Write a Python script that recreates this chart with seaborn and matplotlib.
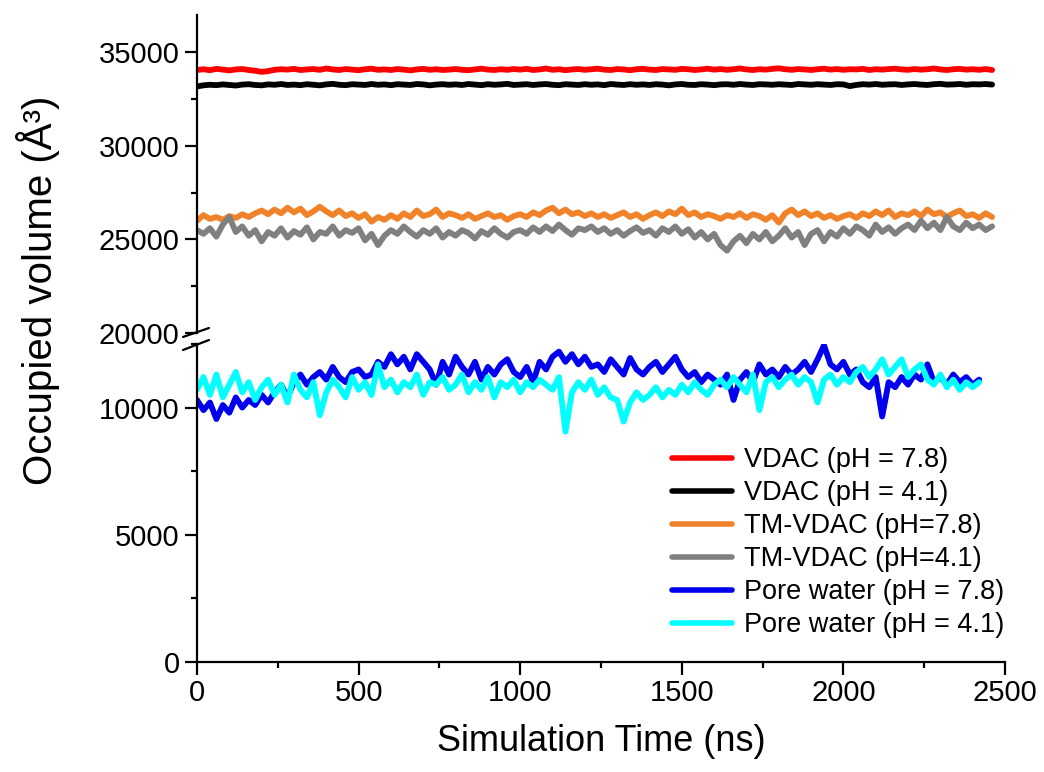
import numpy as np
import pandas as pd
import matplotlib
matplotlib.use("Agg")
import matplotlib.pyplot as plt
from matplotlib.lines import Line2D
from matplotlib.ticker import MultipleLocator
import seaborn as sns

# ---------------- data ----------------
time_prot = np.arange(0, 2461, 20)   # ns
time_pore = np.arange(0, 2421, 20)   # ns

vdac_78 = [34060, 34100, 34050, 34120, 34080, 34040, 34090, 34110, 34060, 34020,
           33960, 34000, 34070, 34100, 34080, 34120, 34060, 34090, 34110, 34070,
           34140, 34090, 34060, 34110, 34080, 34050, 34100, 34130, 34070, 34090,
           34060, 34110, 34080, 34040, 34090, 34120, 34070, 34100, 34060, 34080,
           34110, 34070, 34050, 34090, 34130, 34080, 34060, 34100, 34070, 34110,
           34080, 34120, 34060, 34090, 34140, 34070, 34100, 34050, 34090, 34110,
           34070, 34100, 34130, 34080, 34060, 34110, 34090, 34050, 34100, 34120,
           34080, 34060, 34110, 34090, 34070, 34120, 34100, 34060, 34090, 34130,
           34080, 34110, 34070, 34100, 34140, 34090, 34060, 34100, 34080, 34120,
           34150, 34100, 34070, 34110, 34090, 34060, 34100, 34130, 34080, 34110,
           34070, 34100, 34090, 34120, 34060, 34100, 34080, 34110, 34130, 34090,
           34070, 34110, 34080, 34100, 34140, 34090, 34060, 34100, 34120, 34080,
           34100, 34070, 34110, 34060]

vdac_41 = [33180, 33240, 33270, 33250, 33290, 33260, 33230, 33280, 33300, 33260,
           33240, 33290, 33270, 33310, 33260, 33280, 33250, 33300, 33270, 33240,
           33290, 33320, 33270, 33250, 33300, 33280, 33260, 33310, 33270, 33290,
           33250, 33300, 33280, 33260, 33310, 33290, 33240, 33280, 33300, 33270,
           33290, 33260, 33310, 33280, 33250, 33300, 33270, 33290, 33320, 33260,
           33280, 33300, 33260, 33290, 33310, 33270, 33250, 33300, 33280, 33260,
           33300, 33270, 33290, 33250, 33310, 33280, 33260, 33300, 33270, 33290,
           33260, 33300, 33280, 33240, 33290, 33310, 33270, 33260, 33300, 33280,
           33250, 33290, 33300, 33270, 33310, 33280, 33260, 33300, 33290, 33270,
           33300, 33280, 33260, 33310, 33290, 33270, 33300, 33280, 33260, 33300,
           33290, 33200, 33260, 33300, 33280, 33310, 33270, 33290, 33300, 33260,
           33290, 33310, 33280, 33260, 33300, 33320, 33280, 33290, 33310, 33270,
           33300, 33290, 33310, 33280]

tm_vdac_78 = [26000, 26300, 26100, 26200, 26050, 26250, 26150, 26350, 26200, 26400,
              26550, 26350, 26600, 26400, 26700, 26450, 26650, 26300, 26500, 26750,
              26500, 26300, 26550, 26250, 26400, 26150, 26350, 25950, 26200, 26050,
              26300, 26100, 26400, 26200, 26550, 26250, 26350, 26600, 26200, 26400,
              26300, 26150, 26350, 26100, 26250, 26400, 26200, 26300, 26050, 26250,
              26350, 26200, 26450, 26300, 26550, 26700, 26400, 26600, 26350, 26450,
              26250, 26400, 26200, 26350, 26150, 26300, 26450, 26200, 26350, 26100,
              26300, 26450, 26250, 26500, 26350, 26650, 26300, 26450, 26200, 26350,
              26250, 26100, 26300, 26200, 26400, 26150, 26350, 26250, 26050, 26300,
              25900, 26400, 26600, 26300, 26500, 26250, 26400, 26150, 26300, 26100,
              26250, 26350, 26150, 26400, 26250, 26500, 26300, 26550, 26200, 26400,
              26300, 26500, 26250, 26600, 26350, 26450, 26200, 26400, 26550, 26250,
              26350, 26150, 26400, 26200]

tm_vdac_41 = [25500, 25300, 25600, 25150, 25800, 26200, 25400, 25700, 25200, 25500,
              24900, 25400, 25200, 25600, 25100, 25450, 25250, 25650, 25000, 25400,
              25300, 25700, 25200, 25500, 25350, 25600, 24950, 25300, 24700, 25200,
              25500, 25300, 25700, 25400, 25150, 25500, 25300, 25600, 25100, 25400,
              25200, 25500, 25350, 25050, 25450, 25250, 25600, 25300, 25100, 25400,
              25500, 25300, 25650, 25400, 25700, 25450, 25800, 25500, 25250, 25600,
              25500, 25700, 25400, 25600, 25300, 25500, 25200, 25450, 25650, 25350,
              25500, 25200, 25600, 25400, 25700, 25300, 25550, 25100, 25400, 25000,
              25300, 24700, 24400, 24900, 25200, 24800, 25300, 25000, 25400, 24900,
              25200, 25600, 25100, 25400, 24700, 25300, 25500, 24900, 25400, 25150,
              25600, 25300, 25700, 25500, 25200, 25800, 25400, 25650, 25300, 25600,
              25800, 25500, 26000, 25600, 25900, 25500, 26200, 25700, 25500, 25900,
              25600, 25800, 25500, 25700]

pore_78 = [10300, 9900, 10200, 9550, 10100, 9800, 10400, 10000, 10300, 10100,
           10500, 10200, 10600, 10900, 10400, 11000, 11300, 10900, 11200, 11400,
           11100, 11600, 11200, 11000, 11400, 11500, 11200, 11300, 11800, 11600,
           12100, 11700, 12000, 11500, 12100, 11800, 11500, 10900, 11800, 11300,
           12000, 11600, 11300, 11800, 11100, 11600, 11300, 11700, 11900, 11400,
           11200, 11600, 11000, 11800, 11500, 12000, 12200, 11800, 12100, 11700,
           12000, 11600, 11700, 11400, 11900, 11600, 11300, 11950, 11500, 11300,
           11600, 11800, 11400, 11700, 12000, 11500, 11200, 11400, 11000, 11300,
           11100, 10900, 11300, 10300, 11100, 11400, 11000, 11700, 11300, 11500,
           11200, 11600, 11300, 11500, 11800, 11400, 11900, 12450, 11700, 11500,
           11800, 11300, 11500, 11000, 10800, 11200, 9650, 11000, 10800, 11200,
           10900, 11300, 11100, 11700, 11000, 11200, 10900, 11300, 11000, 11200,
           10900, 11100]

pore_41 = [10700, 11200, 10500, 11300, 10400, 10900, 11400, 10600, 11000, 10300,
           10800, 11100, 10500, 10900, 10200, 11300, 10700, 10400, 11000, 9700,
           10600, 11100, 10800, 10400, 11200, 10700, 11000, 10500, 11700, 10800,
           11100, 10600, 11000, 10800, 11300, 10500, 11000, 10900, 11200, 10700,
           10900, 11300, 10600, 11000, 10700, 11200, 10400, 11000, 10800, 11100,
           10600, 11000, 10800, 11100, 10900, 10700, 11200, 9050, 10600, 11000,
           10700, 11100, 10500, 10800, 10400, 10300, 9450, 10200, 10600, 10300,
           10500, 10800, 10400, 10700, 10500, 10900, 10600, 11000, 10700, 10500,
           10900, 11100, 10800, 11200, 10900, 10600, 11300, 9900, 11000, 11200,
           10800, 11100, 11300, 10900, 11200, 11000, 10200, 11100, 11300, 10900,
           11200, 11000, 11400, 11600, 11200, 11500, 11900, 11300, 11600, 11900,
           11200, 11500, 11700, 11100, 10900, 11300, 10800, 11100, 10700, 11000,
           10800, 11000]

labels = ["VDAC (pH = 7.8)", "VDAC (pH = 4.1)", "TM-VDAC (pH=7.8)",
          "TM-VDAC (pH=4.1)", "Pore water (pH = 7.8)", "Pore water (pH = 4.1)"]
colors = ["#ff0000", "#000000", "#f0832a", "#808080", "#0000ee", "#00ffff"]
x_ticks = [0, 500, 1000, 1500, 2000, 2500]

# ---------------- style ----------------
sns.set_style("ticks")
plt.rcParams['font.family'] = ['Liberation Sans', 'DejaVu Sans']
plt.rcParams.update({
    'axes.linewidth': 1.6, 'text.color': 'black', 'axes.labelcolor': 'black',
    'xtick.color': 'black', 'ytick.color': 'black', 'axes.edgecolor': 'black',
})

W, H = 1044, 772
fig = plt.figure(figsize=(W / 100, H / 100), dpi=100)
L, R = 197 / W, 1005 / W
ax_top = fig.add_axes([L, 1 - 333 / H, R - L, (333 - 15) / H])
ax_bot = fig.add_axes([L, 1 - 662 / H, R - L, (662 - 344) / H])

lw = 4.2
upper = [(time_prot, vdac_78), (time_prot, vdac_41),
         (time_prot, tm_vdac_78), (time_prot, tm_vdac_41)]
lower = [(time_pore, pore_78), (time_pore, pore_41)]

for (t, v), c in zip(upper, colors[:4]):
    sns.lineplot(x=t, y=v, color=c, lw=lw, ax=ax_top, estimator=None)
for (t, v), c in zip(lower, colors[4:]):
    sns.lineplot(x=t, y=v, color=c, lw=lw, ax=ax_bot, estimator=None)

for ax in (ax_top, ax_bot):
    ax.set_xlim(0, 2500)
    ax.spines['top'].set_visible(False)
    ax.spines['right'].set_visible(False)
    ax.set_ylabel("")
    ax.set_xlabel("")
    ax.yaxis.set_minor_locator(MultipleLocator(2500))
    ax.tick_params(axis='both', which='major', direction='out', length=9,
                   width=1.6, labelsize=21, color='black', labelcolor='black')
    ax.tick_params(axis='both', which='minor', direction='out', length=4.5,
                   width=1.6, color='black')

ax_top.set_ylim(20000, 37000)
ax_top.set_yticks([20000, 25000, 30000, 35000])
ax_top.spines['bottom'].set_visible(False)
ax_top.tick_params(axis='x', which='both', bottom=False, labelbottom=False)

ax_bot.set_ylim(0, 12500)
ax_bot.set_yticks([0, 5000, 10000])
ax_bot.set_xticks(x_ticks)
ax_bot.xaxis.set_minor_locator(MultipleLocator(250))
ax_bot.set_xlabel("Simulation Time (ns)", fontsize=26, labelpad=12, color='black')

fig.text(38 / W, 1 - 290 / H, "Occupied volume (Å³)", rotation=90,
         fontsize=29, ha='center', va='center', color='black')

# axis break marks
for y0, y1 in [(337, 328), (350, 340)]:
    fig.add_artist(Line2D([183 / W, 209 / W], [1 - y0 / H, 1 - y1 / H],
                          transform=fig.transFigure, color='black', lw=1.6))

handles = [Line2D([0], [0], color=c, lw=4.0) for c in colors]
ax_bot.legend(handles, labels, loc='upper left',
              bbox_to_anchor=((672 - 197) / (1005 - 197), (662 - 447) / (662 - 344)),
              bbox_transform=ax_bot.transAxes,
              frameon=False, fontsize=19.5, handlelength=2.2, handletextpad=0.45,
              labelspacing=0.26, borderpad=0, borderaxespad=0)

fig.savefig("out.png", dpi=100)
